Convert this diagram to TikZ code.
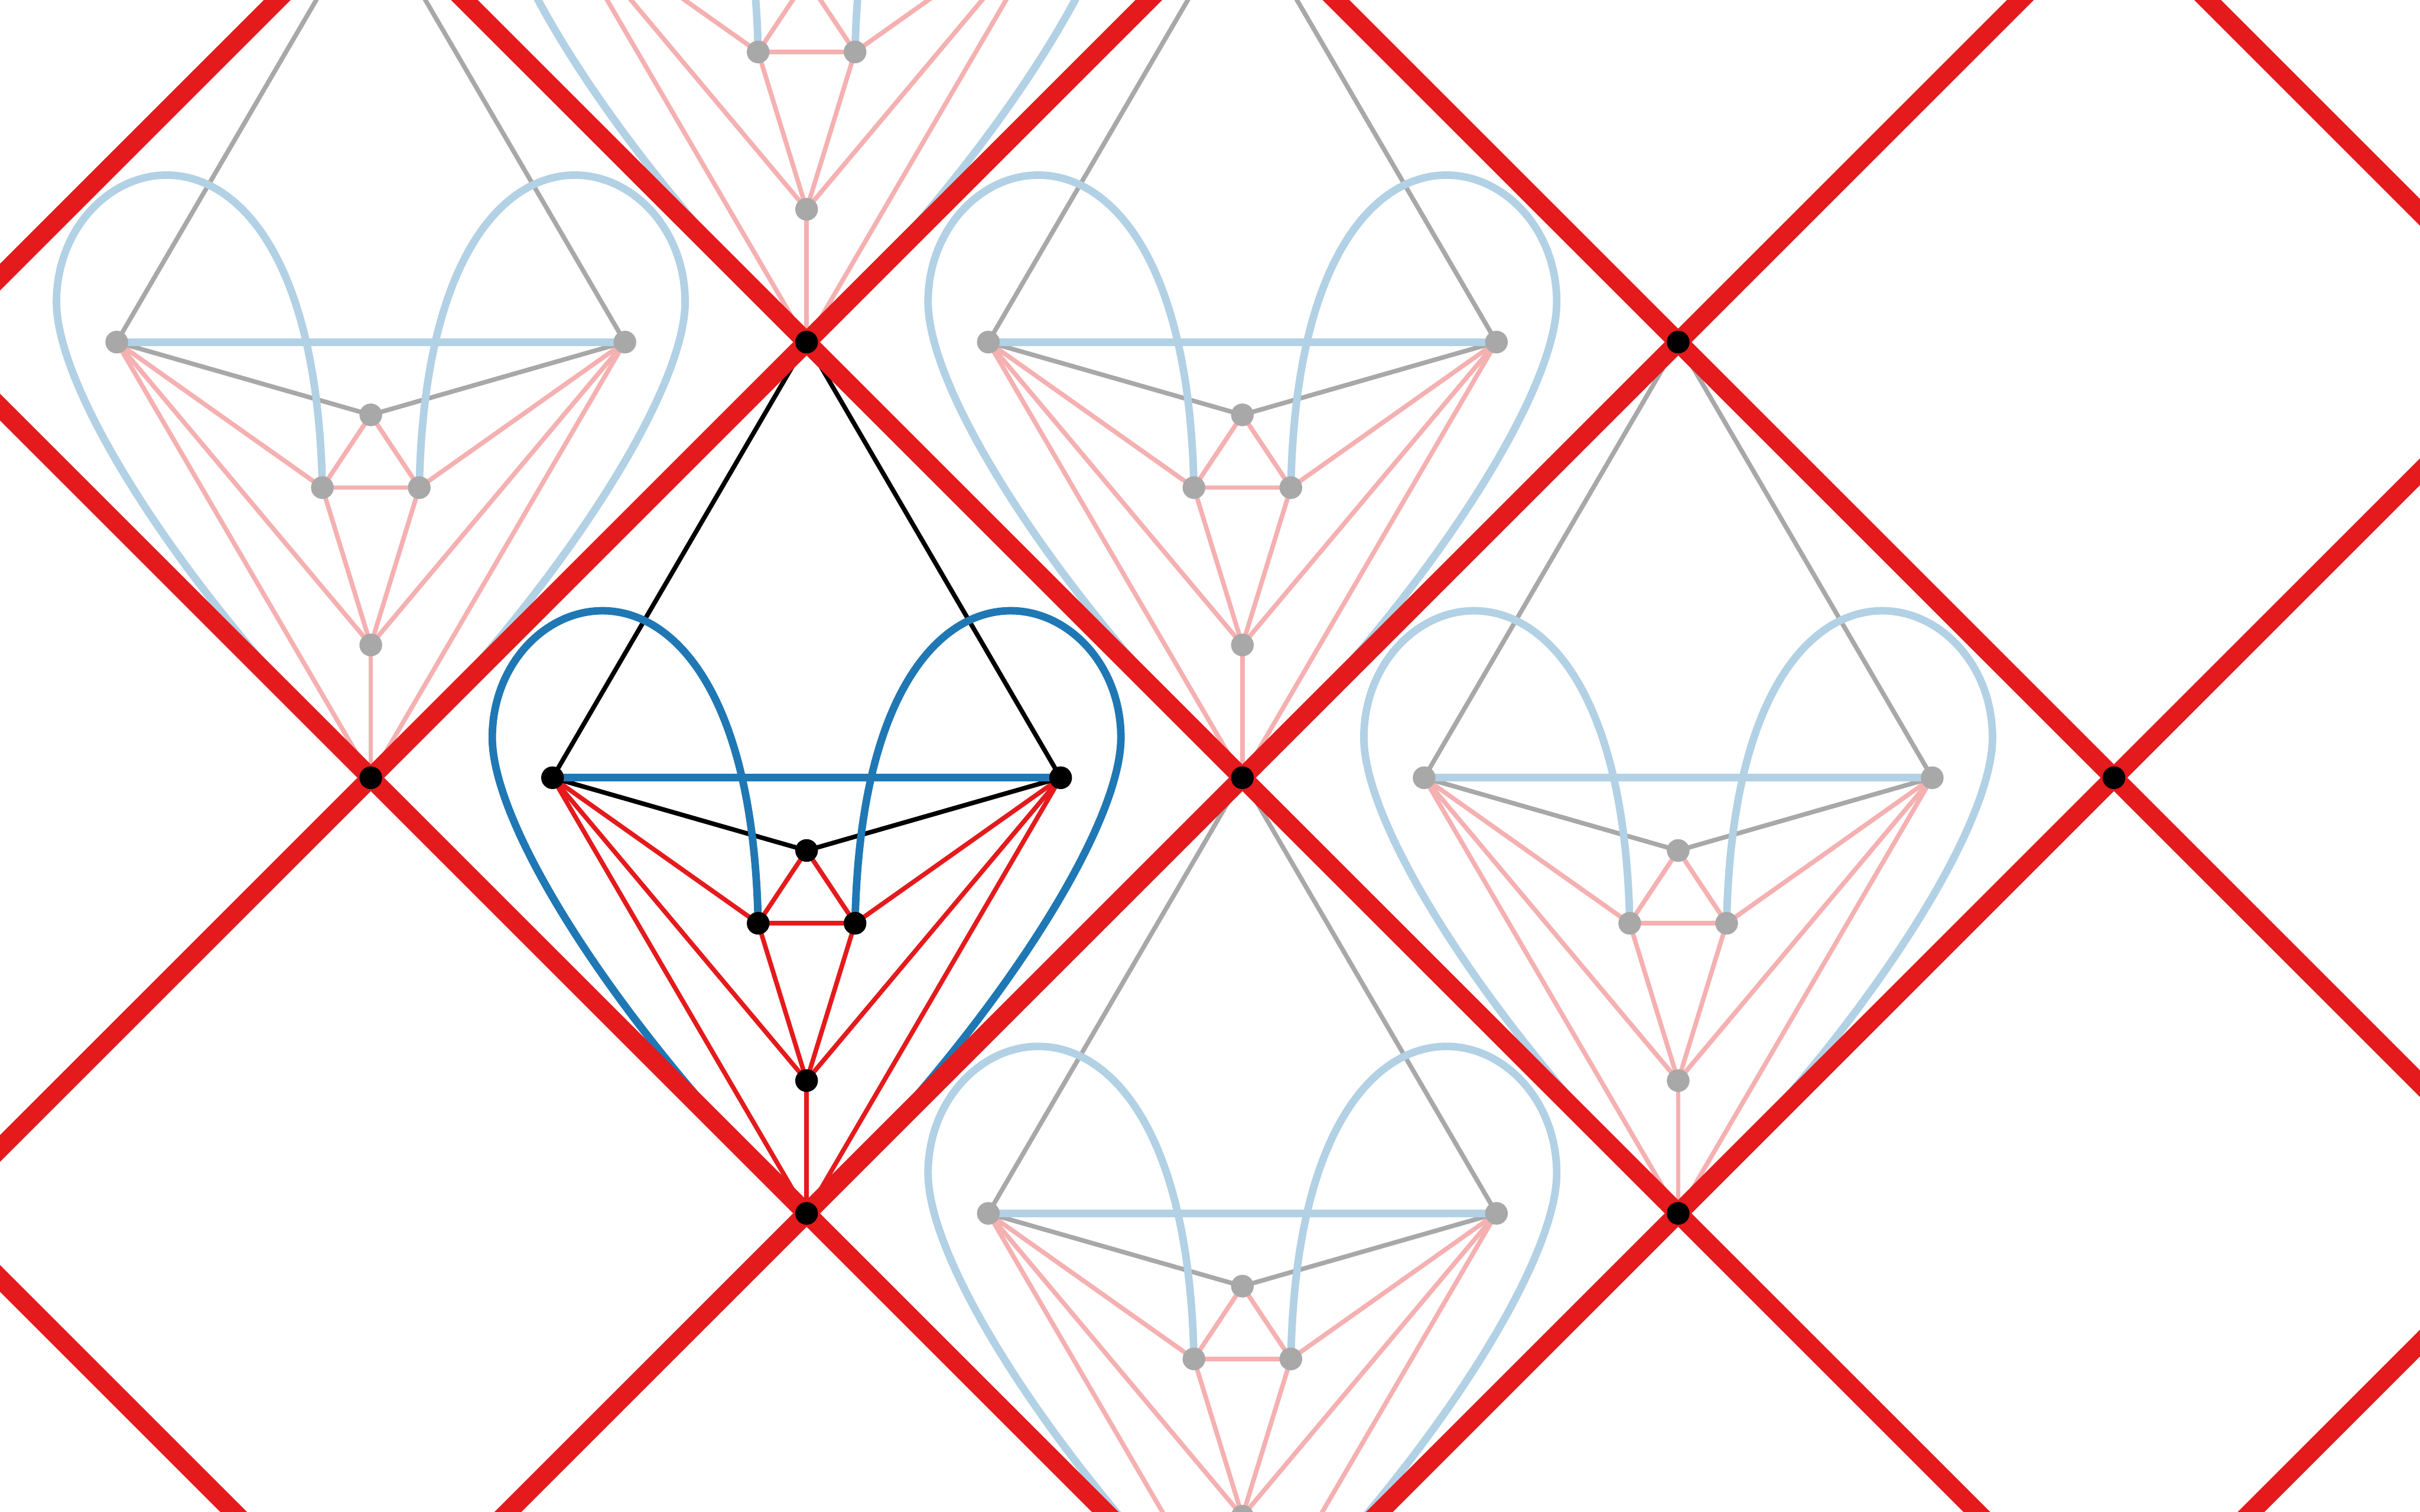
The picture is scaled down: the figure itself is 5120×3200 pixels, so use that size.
\documentclass[tikz,border=0pt]{standalone}
\pgfdeclarelayer{paper}
\pgfdeclarelayer{edges}
\pgfdeclarelayer{walls}
\pgfsetlayers{paper,edges,walls,main}
\definecolor{wallred}{HTML}{E41A1C}
\definecolor{mainblue}{HTML}{1F78B4}
\definecolor{fadered}{HTML}{F5B0B1}
\definecolor{fadeblue}{HTML}{B2D1E5}
\definecolor{fadegray}{HTML}{A8A8A8}
\tikzset{
  dotnode/.style={circle,inner sep=0pt,minimum size=0.48cm,fill=#1},
  thinedge/.style={line width=0.096cm,draw=#1},
  blueedge/.style={line width=0.16cm,draw=#1},
  wall/.style={line width=0.4cm,draw=wallred}
}
% #1 prefix, #2 cx, #3 cy, #4 red, #5 black, #6 blue
\newcommand{\motif}[6]{%
\begin{scope}[shift={(#2,#3)}]
  \node[dotnode=#5] (#1L) at (-537.5,0) {};
  \node[dotnode=#5] (#1R) at (537.5,0) {};
  \node[dotnode=#5] (#1T) at (0,154) {};
  \node[dotnode=#5] (#1A) at (-102.5,308) {};
  \node[dotnode=#5] (#1B) at (102.5,308) {};
  \node[dotnode=#5] (#1O) at (0,641) {};
  \coordinate (#1N) at (0,-922);
  \coordinate (#1S) at (0,922);
  \begin{pgfonlayer}{edges}
    \foreach \u/\v in {L/A,L/O,L/S,R/B,R/O,R/S,T/A,T/B,A/B,A/O,B/O,O/S}
      \draw[thinedge=#4] (#1\u.center) -- (#1\v.center);
    \foreach \u/\v in {L/N,R/N,L/T,R/T}
      \draw[thinedge=#5] (#1\u.center) -- (#1\v.center);
    \draw[blueedge=#6] (#1L.center) -- (#1R.center);
    \draw[blueedge=#6] (#1A.center) .. controls (-120,-580) and (-665,-425) .. (-665,-85)
       .. controls (-665,110) and (-385,545) .. (#1S);
    \draw[blueedge=#6] (#1B.center) .. controls (120,-580) and (665,-425) .. (665,-85)
       .. controls (665,110) and (385,545) .. (#1S);
  \end{pgfonlayer}
\end{scope}}
\begin{document}
\begin{tikzpicture}[x=0.01cm,y=-0.01cm]
\path[use as bounding box] (0,0) rectangle (5120,3200);
\begin{pgfonlayer}{paper}
  \fill[white] (0,0) rectangle (5120,3200);
\end{pgfonlayer}
% faded copies
\motif{a}{784.5}{724}{fadered}{fadegray}{fadeblue}
\motif{b}{2628.5}{724}{fadered}{fadegray}{fadeblue}
\motif{c}{3550.5}{1646}{fadered}{fadegray}{fadeblue}
\motif{d}{2628.5}{2568}{fadered}{fadegray}{fadeblue}
\motif{e}{1706.5}{-198}{fadered}{fadegray}{fadeblue}
% main copy
\motif{m}{1706.5}{1646}{wallred}{black}{mainblue}
% lattice walls
\begin{pgfonlayer}{walls}
  \foreach \d in {-3,-1,1,3,5} {
    \coordinate (p\d) at ({1706.5+922*(\d-2)},{1646-922*2});
    \coordinate (q\d) at ({1706.5+922*(\d+4)},{1646+922*4});
    \draw[wall] (p\d) -- (q\d);
  }
  \foreach \s in {-3,-1,1,3,5} {
    \coordinate (r\s) at ({1706.5+922*(\s+2)},{1646-922*2});
    \coordinate (t\s) at ({1706.5+922*(\s-4)},{1646+922*4});
    \draw[wall] (r\s) -- (t\s);
  }
\end{pgfonlayer}
% lattice vertices
\foreach \nm/\k/\m in {v1/0/-1,v2/-1/0,v3/1/0,v4/0/1,v5/2/-1,v6/3/0,v7/2/1}
  \node[dotnode=black] (\nm) at ({1706.5+922*\k},{1646+922*\m}) {};
\end{tikzpicture}
\end{document}
